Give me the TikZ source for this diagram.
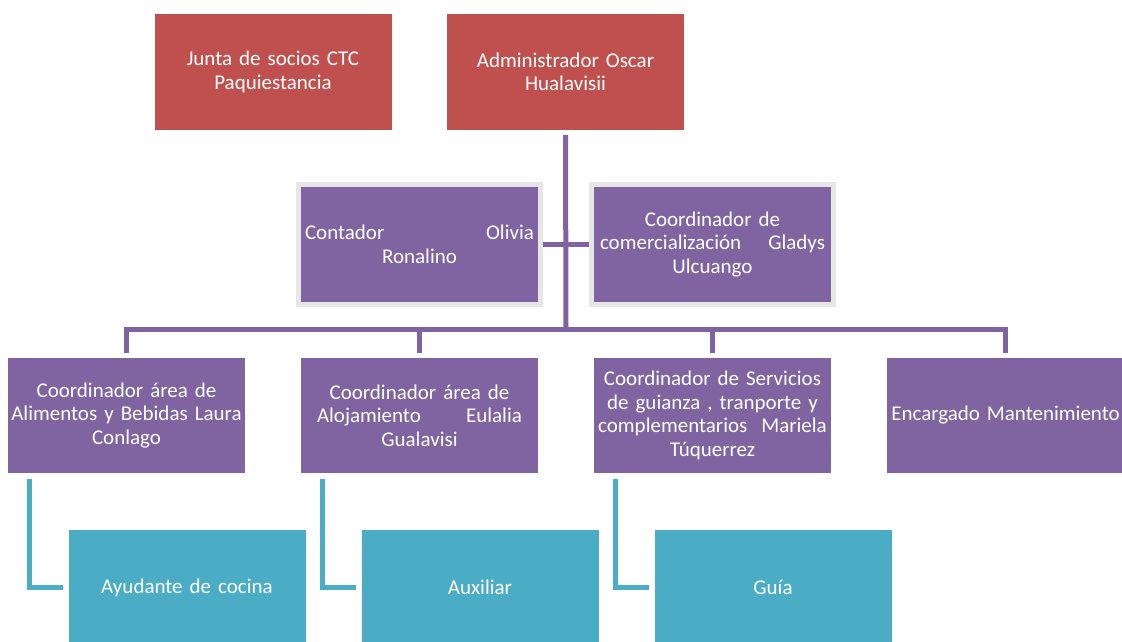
\documentclass[tikz,border=0pt]{standalone}
\usepackage{fontspec}
\setmainfont{Carlito}
\definecolor{boxred}{HTML}{C0504D}
\definecolor{boxpurple}{HTML}{8064A2}
\definecolor{boxcyan}{HTML}{4BACC6}
\definecolor{rimgray}{HTML}{E6E6E6}
\newcommand{\spreadline}[3]{\leavevmode\hbox to #1{#2\hfil #3}}
\begin{document}
\begin{tikzpicture}[x = 1pt, y = -1pt,
    every node/.style = {font = \fontsize{21}{23.5}\selectfont, text = white, align = center, inner sep = 1pt},
    redbox/.style = {fill = boxred, minimum width = 237pt, minimum height = 116pt, text width = 235pt},
    midbox/.style = {fill = boxpurple, draw = rimgray, line width = 5pt, minimum width = 242pt, minimum height = 120pt, text width = 235pt},
    purplebox/.style = {fill = boxpurple, minimum width = 237pt, minimum height = 115pt, text width = 235pt},
    cyanbox/.style = {fill = boxcyan, minimum width = 237pt, minimum height = 115pt, text width = 235pt},
    purpleline/.style = {draw = boxpurple, line width = 5pt},
    cyanline/.style = {draw = boxcyan, line width = 5pt}]
    \useasboundingbox [fill = white] (0, 0) rectangle (1122, 641);
    \clip (0, 0) rectangle (1122, 641);
    % top row
    \node [redbox] (junta) at (273, 72) {Junta de socios CTC\\Paquiestancia};
    \node [redbox] (admin) at (565.5, 72) {Administrador Oscar\\Hualavisii};
    % staff beside the line
    \node [midbox] (cont) at (419.5, 244.5) {\spreadline{229pt}{Contador}{Olivia}\\Ronalino};
    \node [midbox] (come) at (712.5, 244.5) {Coordinador de\\\spreadline{225pt}{comercialización}{Gladys}\\Ulcuango};
    % coordinators
    \node [purplebox] (alim) at (126.5, 415.5) {Coordinador área de\\Alimentos y Bebidas Laura\\Conlago};
    \node [purplebox] (aloj) at (419.5, 415.5) {Coordinador área de\\\spreadline{205pt}{Alojamiento}{Eulalia}\\Gualavisi};
    \node [purplebox] (serv) at (712.5, 415.5) {Coordinador de Servicios\\de guianza , tranporte y\\complementarios\ \ Mariela\\Túquerrez};
    \node [purplebox] (mant) at (1005.5, 415.5) {Encargado Mantenimiento};
    % helpers
    \node [cyanbox] (ayud) at (187, 587.5) {Ayudante de cocina};
    \node [cyanbox] (aux) at (480, 587.5) {Auxiliar};
    \node [cyanbox] (guia) at (773, 587.5) {Guía};
    % connectors
    \coordinate (bus) at (566, 329);
    \draw [purpleline] ([yshift = -5pt]admin.south) -- (bus);
    \draw [purpleline] (cont.east) -- (come.west);
    \draw [purpleline] ([yshift = 5pt]alim.north) |- (bus) -| ([yshift = 5pt]mant.north);
    \draw [purpleline] ([yshift = 5pt]aloj.north) -- (aloj.north |- bus);
    \draw [purpleline] ([yshift = 5pt]serv.north) -- (serv.north |- bus);
    \draw [cyanline] ([xshift = 21.5pt, yshift = -6pt]alim.south west) |- ([xshift = -5pt]ayud.west);
    \draw [cyanline] ([xshift = 21.5pt, yshift = -6pt]aloj.south west) |- ([xshift = -5pt]aux.west);
    \draw [cyanline] ([xshift = 21.5pt, yshift = -6pt]serv.south west) |- ([xshift = -5pt]guia.west);
\end{tikzpicture}
\end{document}
